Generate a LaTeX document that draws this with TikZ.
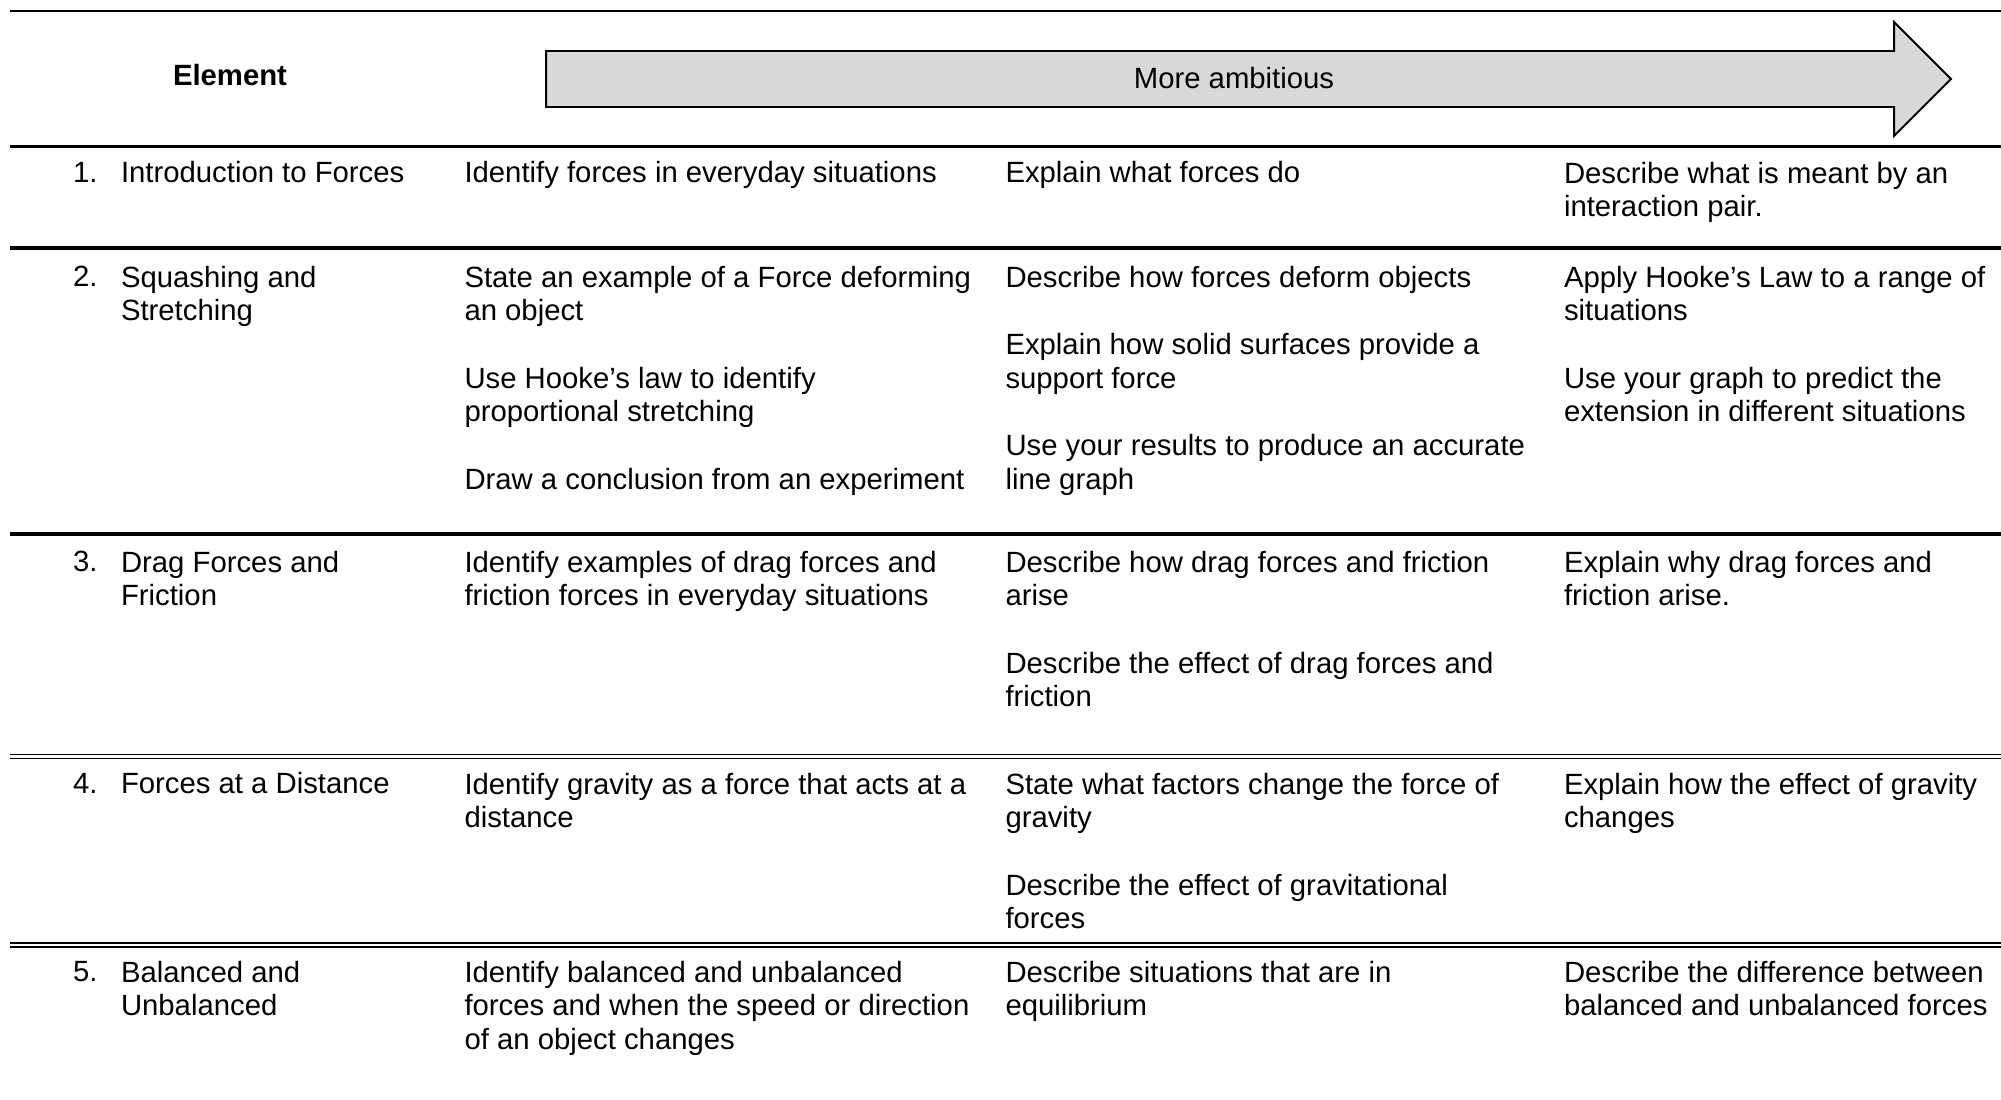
\documentclass[tikz,border=0pt]{standalone}
\usepackage{fontspec}
\setmainfont{Liberation Sans}
\begin{document}
\begin{tikzpicture}[x=0.3413pt,y=-0.3413pt,
  cellbase/.style={anchor=north west, inner sep=0pt, outer sep=0pt,
    align=left, font=\fontsize{10}{11.5}\selectfont, execute at begin node=\strut},
  cell/.style={cellbase, yshift=8.05pt},
  mcell/.style={cellbase, yshift=6.9pt},
  head/.style={anchor=base, inner sep=0pt, font=\fontsize{10}{11.5}\selectfont},
  rulethin/.style={line width=0.72pt},
  rulethick/.style={line width=1.37pt},
  ruledbl/.style={line width=0.55pt},
  arrowshape/.style={draw=black, line width=0.68pt, fill=black!15, line join=miter}
]
\fill[white] (0,0) rectangle (2001,1100);
\useasboundingbox (0,0) rectangle (2001,1100);

% horizontal rules
\draw[rulethin] (10,11) -- (2001,11);
\draw[rulethin] (10,146.5) -- (2001,146.5);
\draw[rulethick] (10,248) -- (2001,248);
\draw[rulethick] (10,534) -- (2001,534);
\draw[ruledbl] (10,754.5) -- (2001,754.5);
\draw[ruledbl] (10,758.5) -- (2001,758.5);
\draw[ruledbl] (10,943) -- (2001,943);
\draw[ruledbl] (10,947) -- (2001,947);

% header
\node[head, font=\fontsize{10}{11.5}\selectfont\bfseries] (element) at (230,85) {Element};
\draw[arrowshape] (546,51) -- (1894,51) -- (1894,22) -- (1951,79) -- (1894,136) -- (1894,107) -- (546,107) -- cycle;
\node[head] (ambitious) at (1234,88) {More ambitious};

% row 1
\node[cell] (n1) at (73,182) {1.};
\node[cell] (e1) at (121,182) {Introduction to Forces};
\node[cell] (a1) at (464.5,182) {Identify forces in everyday situations};
\node[cell] (b1) at (1005.5,182) {Explain what forces do};
\node[mcell] (c1) at (1564,182) {Describe what is meant by an\\interaction pair.};

% row 2
\node[cell] (n2) at (73,286) {2.};
\node[mcell] (e2) at (121,286) {Squashing and\\Stretching};
\node[mcell] (a2) at (464.5,286) {State an example of a Force deforming\\an object\\[11.5pt]Use Hooke’s law to identify\\proportional stretching\\[11.5pt]Draw a conclusion from an experiment};
\node[mcell] (b2) at (1005.5,286) {Describe how forces deform objects\\[11.5pt]Explain how solid surfaces provide a\\support force\\[11.5pt]Use your results to produce an accurate\\line graph};
\node[mcell] (c2) at (1564,286) {Apply Hooke’s Law to a range of\\situations\\[11.5pt]Use your graph to predict the\\extension in different situations};

% row 3
\node[cell] (n3) at (73,571) {3.};
\node[mcell] (e3) at (121,571) {Drag Forces and\\Friction};
\node[mcell] (a3) at (464.5,571) {Identify examples of drag forces and\\friction forces in everyday situations};
\node[mcell] (b3) at (1005.5,571) {Describe how drag forces and friction\\arise\\[11.5pt]Describe the effect of drag forces and\\friction};
\node[mcell] (c3) at (1564,571) {Explain why drag forces and\\friction arise.};

% row 4
\node[cell] (n4) at (73,793) {4.};
\node[cell] (e4) at (121,793) {Forces at a Distance};
\node[mcell] (a4) at (464.5,793) {Identify gravity as a force that acts at a\\distance};
\node[mcell] (b4) at (1005.5,793) {State what factors change the force of\\gravity\\[11.5pt]Describe the effect of gravitational\\forces};
\node[mcell] (c4) at (1564,793) {Explain how the effect of gravity\\changes};

% row 5
\node[cell] (n5) at (73,981) {5.};
\node[mcell] (e5) at (121,981) {Balanced and\\Unbalanced};
\node[mcell] (a5) at (464.5,981) {Identify balanced and unbalanced\\forces and when the speed or direction\\of an object changes};
\node[mcell] (b5) at (1005.5,981) {Describe situations that are in\\equilibrium};
\node[mcell] (c5) at (1564,981) {Describe the difference between\\balanced and unbalanced forces};
\end{tikzpicture}
\end{document}
